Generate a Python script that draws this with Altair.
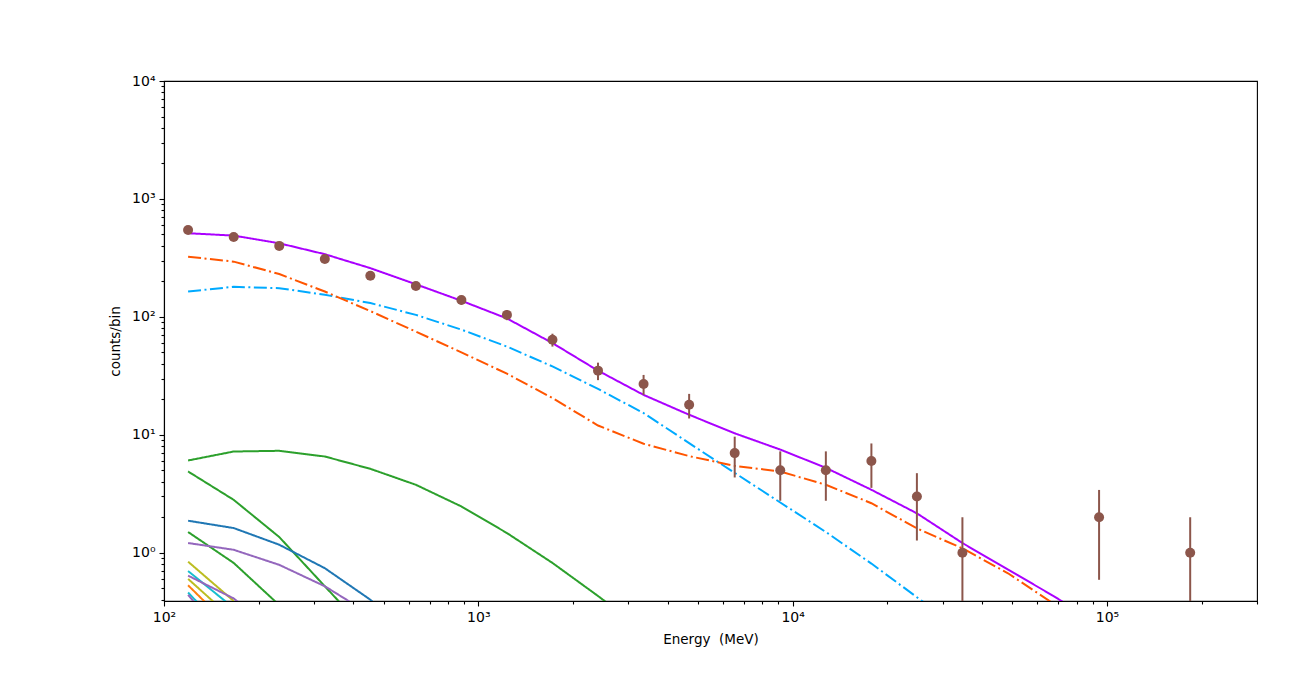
import altair as alt
import pandas as pd

# Energy bin centres (MeV)
energy = [119.3, 166.6, 232.6, 324.8, 453.3, 632.9, 883.3, 1233, 1721, 2403,
          3355, 4684, 6540, 9130, 12750, 17800, 24840, 34670, 48410, 67580,
          94350, 131700, 183900, 256700]

# Observed counts per bin (0 = empty bin, not drawn on a log axis)
counts = [546, 476, 400, 310, 223, 183, 139, 104, 64, 35, 27, 18, 7, 5, 5, 6, 3, 1,
          0, 0, 2, 0, 1, 0]
count_err = [23.4, 21.8, 20.0, 17.6, 14.9, 13.5, 11.8, 10.2, 8.0, 5.92, 5.2, 4.24,
             2.65, 2.24, 2.24, 2.45, 1.73, 1.0, 0, 0, 1.41, 0, 1.0, 0]

# Model curves (counts/bin) evaluated at the bin centres
total_model = [512, 489, 421, 340, 259, 189, 137, 97, 60, 35, 21.8, 14.8, 10.3, 7.5,
               5.25, 3.42, 2.16, 1.21, 0.72, 0.43, 0.245]
diffuse_a = [324, 294, 231, 164, 112, 75, 50, 33, 20.5, 12, 8.4, 6.6, 5.46, 4.89,
             3.77, 2.63, 1.61, 1.09, 0.67, 0.37, 0.19]
diffuse_b = [164, 180, 175, 154, 131, 104, 78, 56, 38, 24.5, 15.3, 8.5, 4.76, 2.67,
             1.5, 0.81, 0.42, 0.22]
src_green1 = [6.06, 7.22, 7.32, 6.55, 5.15, 3.77, 2.47, 1.47, 0.82, 0.43, 0.22]
src_green2 = [4.89, 2.81, 1.36, 0.52, 0.2]
src_green3 = [1.5, 0.82, 0.36]
src_blue = [1.87, 1.62, 1.17, 0.74, 0.4, 0.18]
src_purple1 = [1.21, 1.06, 0.79, 0.52, 0.3]
src_olive1 = [0.84, 0.39]
src_cyan1 = [0.70, 0.34]
src_purple2 = [0.64, 0.41, 0.2]
src_olive2 = [0.60, 0.27]
src_orange = [0.53, 0.22]
src_cyan2 = [0.46, 0.18]
src_purple3 = [0.44, 0.15]

series = [
    ("src_green1", "#2ca02c", [1, 0], src_green1),
    ("src_green2", "#2ca02c", [1, 0], src_green2),
    ("src_green3", "#2ca02c", [1, 0], src_green3),
    ("src_blue", "#1f77b4", [1, 0], src_blue),
    ("src_purple1", "#9467bd", [1, 0], src_purple1),
    ("src_olive1", "#bcbd22", [1, 0], src_olive1),
    ("src_cyan1", "#17becf", [1, 0], src_cyan1),
    ("src_purple2", "#9467bd", [1, 0], src_purple2),
    ("src_olive2", "#bcbd22", [1, 0], src_olive2),
    ("src_orange", "#ff7f0e", [1, 0], src_orange),
    ("src_cyan2", "#17becf", [1, 0], src_cyan2),
    ("src_purple3", "#9467bd", [1, 0], src_purple3),
    ("diffuse_b", "#00aaff", [13, 3.5, 2, 3.5], diffuse_b),
    ("diffuse_a", "#ff5500", [13, 3.5, 2, 3.5], diffuse_a),
    ("total", "#aa00ff", [1, 0], total_model),
]

rows = []
for order, (name, _, _, vals) in enumerate(series):
    for i, v in enumerate(vals):
        rows.append({"series": name, "order": order, "E": energy[i], "y": v})
lines_df = pd.DataFrame(rows)

pts = []
for e, c, err in zip(energy, counts, count_err):
    if c > 0:
        lo = c - err
        pts.append({"E": e, "c": c, "lo": lo if lo > 0 else 1e-3, "hi": c + err})
pts_df = pd.DataFrame(pts)

x_major = [100, 1000, 10000, 100000]
x_major_lbl = ["10²", "10³", "10⁴", "10⁵"]
y_major = [1, 10, 100, 1000, 10000]
y_major_lbl = ["10⁰", "10¹", "10²", "10³", "10⁴"]

x_ticks = [m * d for d in [100, 1000, 10000, 100000] for m in range(1, 10) if m * d <= 300000]
y_ticks = [m * d for d in [0.1, 1, 10, 100, 1000] for m in range(1, 10) if 0.39 <= m * d <= 10000] + [10000]


def lbl_expr(vals, labels):
    s = "''"
    for v, l in zip(reversed(vals), reversed(labels)):
        s = f"(abs(datum.value - {v}) < {v}*1e-6) ? '{l}' : ({s})"
    return s


def major_test(vals):
    return " || ".join(f"abs(datum.value - {v}) < {v}*1e-6" for v in vals)


xscale = alt.Scale(type="log", domain=[100, 300000], nice=False)
yscale = alt.Scale(type="log", domain=[0.39, 10000], nice=False)

xaxis = alt.Axis(values=x_ticks, labelExpr=lbl_expr(x_major, x_major_lbl),
                 tickSize={"condition": {"test": major_test(x_major), "value": 5}, "value": 3},
                 title="Energy\u00a0 (MeV)", labelOverlap=False, labelFlush=False, grid=False,
                 labelPadding=4, titlePadding=8)
yaxis = alt.Axis(values=y_ticks, labelExpr=lbl_expr(y_major, y_major_lbl),
                 tickSize={"condition": {"test": major_test(y_major), "value": 5}, "value": 3},
                 title="counts/bin", labelOverlap=False, labelFlush=False, grid=False,
                 labelPadding=4, titlePadding=9)

names = [s[0] for s in series]
colors = [s[1] for s in series]
dashes = [s[2] for s in series]

lines = alt.Chart(lines_df).mark_line(clip=True, strokeWidth=2).encode(
    x=alt.X("E:Q", scale=xscale, axis=xaxis),
    y=alt.Y("y:Q", scale=yscale, axis=yaxis),
    color=alt.Color("series:N", scale=alt.Scale(domain=names, range=colors), legend=None),
    strokeDash=alt.StrokeDash("series:N", scale=alt.Scale(domain=names, range=dashes), legend=None),
    order=alt.Order("order:Q"),
)

errs = alt.Chart(pts_df).mark_rule(clip=True, strokeWidth=2, color="#8c564b").encode(
    x=alt.X("E:Q", scale=xscale),
    y=alt.Y("lo:Q", scale=yscale),
    y2="hi:Q",
)

points = alt.Chart(pts_df).mark_circle(clip=True, size=100, opacity=1, color="#8c564b").encode(
    x=alt.X("E:Q", scale=xscale),
    y=alt.Y("c:Q", scale=yscale),
)

chart = alt.layer(lines, errs, points).properties(
    width=1093, height=520,
    autosize=alt.AutoSizeParams(type="none"),
    padding={"left": 156, "top": 73, "right": 40, "bottom": 60},
).configure(
    font="DejaVu Sans",
).configure_view(
    stroke="black", strokeWidth=1.1,
).configure_axis(
    domainColor="black", domainWidth=1.1, tickColor="black", tickWidth=1.1,
    labelColor="black", titleColor="black", labelFontSize=14, titleFontSize=13.5,
    titleFontWeight="normal", labelFont="DejaVu Sans", titleFont="DejaVu Sans",
)

chart.save("out.html", embed_options={"renderer": "svg", "actions": False})
